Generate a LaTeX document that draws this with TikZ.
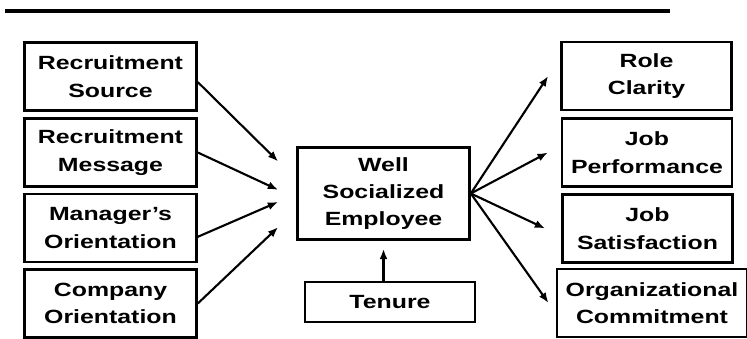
\documentclass[tikz,border=0pt]{standalone}
\usepackage{fontspec}
\setmainfont{Liberation Sans}[FakeStretch=1.3]
\usetikzlibrary{arrows.meta, positioning}

\begin{document}
\begin{tikzpicture}[
  x=0.025cm, y=-0.025cm,
  factor/.style={rectangle, draw=black, line width=1.8pt, minimum width=4.3cm, minimum height=1.7cm, align=center, inner sep=0pt, font=\fontsize{13.6}{19.5}\selectfont\bfseries},
  outcome/.style={factor, minimum width=4.25cm},
  central/.style={factor, minimum height=2.3cm},
  arrow/.style={-{Latex[length=2.6mm, width=2mm]}, line width=1.5pt}
]
  \useasboundingbox (0,0) rectangle (747,339);

  % Rule
  \coordinate (ruleL) at (5,11);
  \coordinate (ruleR) at (670,11);
  \draw[line width=2.4pt] (ruleL) -- (ruleR);

  % Antecedents
  \node[factor] (source) at (110.5,76.5) {Recruitment\\Source};
  \node[factor] (message) at (110.5,152.5) {Recruitment\\Message};
  \node[factor] (manager) at (110.5,228) {Manager's\\Orientation};
  \node[factor] (company) at (110.5,303.5) {Company\\Orientation};

  % Centre
  \node[central] (employee) at (383.5,193.5) {Well\\Socialized\\Employee};
  \node[factor, minimum width=4.25cm, minimum height=1cm] (tenure) at (390,302) {Tenure};

  % Outcomes
  \node[outcome] (clarity) at (646.5,76) {Role\\Clarity};
  \node[outcome] (performance) at (647,152.5) {Job\\Performance};
  \node[outcome] (satisfaction) at (647.5,228.5) {Job\\Satisfaction};
  \node[outcome, minimum width=4.75cm] (commitment) at (652,303) {Organizational\\Commitment};

  % Arrows in
  \draw[arrow] ([yshift=-0.14cm]source.east) -- ([xshift=-0.45cm, yshift=0.8cm]employee.west);
  \draw[arrow] (message.east) -- ([xshift=-0.45cm, yshift=0.09cm]employee.west);
  \draw[arrow] ([yshift=-0.22cm]manager.east) -- ([xshift=-0.45cm, yshift=-0.21cm]employee.west);
  \draw[arrow] (company.east) -- ([xshift=-0.45cm, yshift=-0.84cm]employee.west);
  \draw[arrow] (tenure.north -| employee.south) -- ([yshift=-0.2cm]employee.south);

  % Arrows out
  \draw[arrow] (employee.east) -- ([xshift=-0.3cm]clarity.west);
  \draw[arrow] (employee.east) -- ([xshift=-0.32cm]performance.west);
  \draw[arrow] (employee.east) -- ([xshift=-0.4cm]satisfaction.west);
  \draw[arrow] (employee.east) -- ([xshift=-0.18cm]commitment.west);
\end{tikzpicture}
\end{document}
